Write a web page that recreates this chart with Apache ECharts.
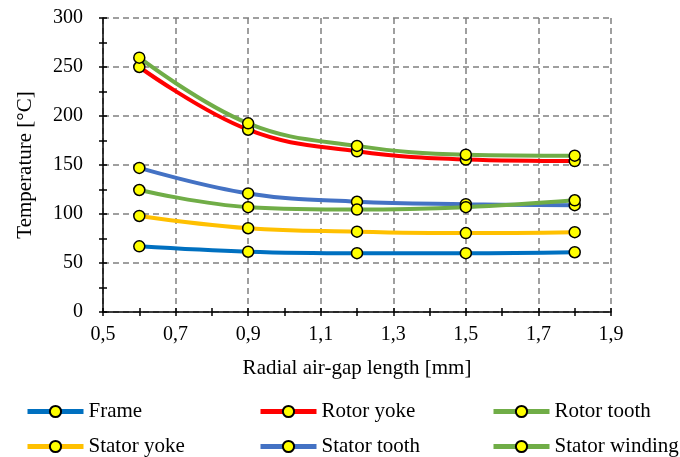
<!DOCTYPE html>
<html>
<head>
<meta charset="utf-8">
<script src="https://cdn.jsdelivr.net/npm/echarts@6/dist/echarts.min.js"></script>
<style>
  html,body{margin:0;padding:0;background:#fff;}
  #main{width:680px;height:457px;}
</style>
</head>
<body>
<div id="main"></div>
<script>
// radial air-gap length [mm]
const gapLength = [0.6, 0.9, 1.2, 1.5, 1.8];
// temperatures [°C]
const frame = [67, 61.5, 60, 60, 61];
const rotorYoke = [250, 186, 164, 155.5, 154];
const rotorTooth = [259.5, 192.5, 169.5, 160.5, 159.5];
const statorYoke = [98, 85.5, 82, 80.5, 81.5];
const statorTooth = [147, 121, 112.5, 110, 109];
const statorWinding = [124.5, 107, 104.5, 107, 114];

const seriesNames = ['Frame', 'Rotor yoke', 'Rotor tooth', 'Stator yoke', 'Stator tooth', 'Stator winding'];
const seriesData = [frame, rotorYoke, rotorTooth, statorYoke, statorTooth, statorWinding];
const colors = ['#0070C0', '#FF0000', '#70AD47', '#FFC000', '#4472C4', '#70AD47'];

const font = 'Liberation Serif';
let chart = echarts.init(document.getElementById('main'), null, {renderer: 'canvas'});

function pairs(ys){
  return ys.map((y, i) => [gapLength[i], y]);
}

// legend: one box per item so the columns line up
const legendPos = [[25, 401], [258, 401], [491, 401], [25, 436], [258, 436], [491, 436]];
let legends = seriesNames.map((n, i) => ({
  data: [n],
  left: legendPos[i][0],
  top: legendPos[i][1],
  padding: 0,
  itemWidth: 56,
  itemHeight: 14,
  itemGap: 0,
  lineStyle: {width: 5},
  textStyle: {fontFamily: font, fontSize: 21, color: '#000'}
}));

const tickLen = 4;
function xAx(inside){
  return {
    type: 'value', min: 0.5, max: 1.9, interval: 0.2, position: 'bottom',
    axisLine: {show: !inside, onZero: false, lineStyle: {color: '#000', width: 1.5}},
    axisTick: {show: true, inside: inside, length: tickLen, lineStyle: {color: '#000', width: 1.5}},
    minorTick: {show: true, splitNumber: 2, length: tickLen, lineStyle: {color: '#000', width: 1.5}},
    axisLabel: {show: !inside, fontFamily: font, fontSize: 20, color: '#000', margin: 13,
      formatter: v => v.toFixed(1).replace('.', ',')},
    splitLine: {show: !inside, lineStyle: {color: '#808080', type: [6, 4], width: 1.5}},
    name: inside ? '' : 'Radial air-gap length [mm]',
    nameLocation: 'middle', nameGap: 46,
    nameTextStyle: {fontFamily: font, fontSize: 21, color: '#000'}
  };
}
function yAx(inside){
  return {
    type: 'value', min: 0, max: 300, interval: 50, position: 'left',
    axisLine: {show: !inside, onZero: false, lineStyle: {color: '#000', width: 1.5}},
    axisTick: {show: true, inside: inside, length: tickLen, lineStyle: {color: '#000', width: 1.5}},
    minorTick: {show: true, splitNumber: 2, length: tickLen, lineStyle: {color: '#000', width: 1.5}},
    axisLabel: {show: !inside, fontFamily: font, fontSize: 20, color: '#000', margin: 20},
    splitLine: {show: !inside, lineStyle: {color: '#808080', type: [6, 4], width: 1.5}},
    name: inside ? '' : 'Temperature [°C]',
    nameLocation: 'middle', nameGap: 67,
    nameTextStyle: {fontFamily: font, fontSize: 21, color: '#000'}
  };
}

let option = {
  animation: false,
  backgroundColor: '#fff',
  grid: {left: 103, right: 69, top: 18, bottom: 145},
  legend: legends,
  xAxis: [xAx(false), xAx(true)],
  yAxis: [yAx(false), yAx(true)],
  series: seriesNames.map((n, i) => ({
    name: n,
    type: 'line',
    data: pairs(seriesData[i]),
    smooth: 0.4,
    color: colors[i],
    lineStyle: {color: colors[i], width: 4},
    symbol: 'circle',
    symbolSize: 11,
    showAllSymbol: true,
    itemStyle: {color: '#FFFF00', borderColor: '#000', borderWidth: 1.5}
  }))
};
chart.setOption(option);
</script>
</body>
</html>
